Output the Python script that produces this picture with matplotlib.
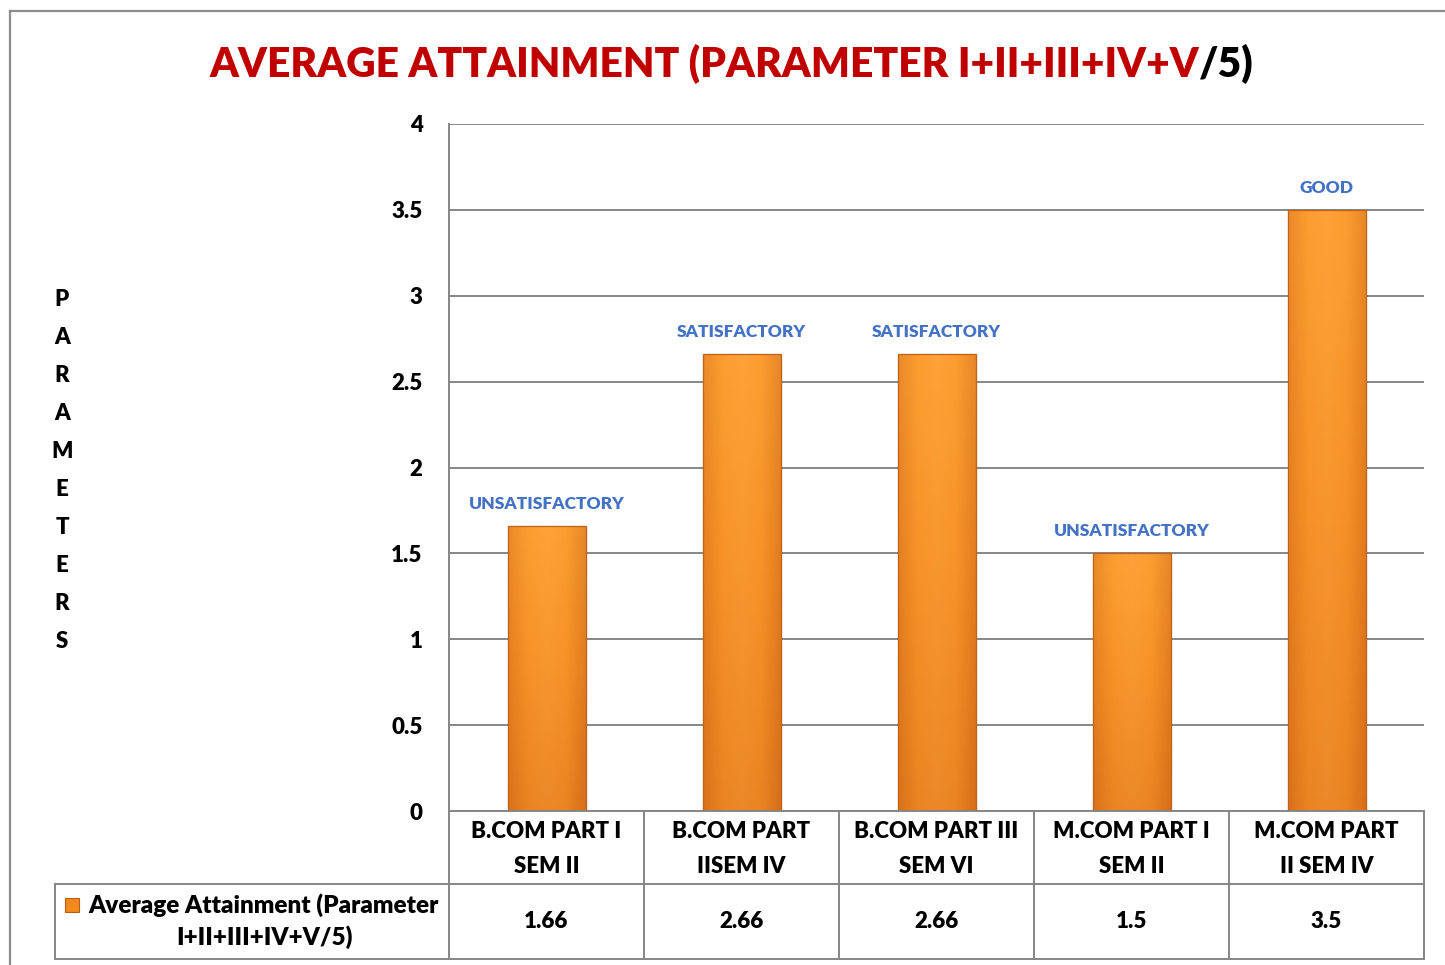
import matplotlib
matplotlib.use("Agg")
import matplotlib.pyplot as plt
import numpy as np
from matplotlib.lines import Line2D
from matplotlib.patches import Rectangle
from matplotlib.colors import LinearSegmentedColormap
import matplotlib.transforms as mtransforms

plt.rcParams['font.family'] = ['Lato', 'DejaVu Sans']
WT = 'heavy'
plt.rcParams['font.weight'] = WT

categories = ["B.COM PART I\nSEM II", "B.COM PART\nIISEM IV", "B.COM PART III\nSEM VI",
              "M.COM PART I\nSEM II", "M.COM PART\nII SEM IV"]
values = [1.66, 2.66, 2.66, 1.5, 3.5]
value_labels = ["1.66", "2.66", "2.66", "1.5", "3.5"]
ratings = ["UNSATISFACTORY", "SATISFACTORY", "SATISFACTORY", "UNSATISFACTORY", "GOOD"]
yticks = [0, 0.5, 1, 1.5, 2, 2.5, 3, 3.5, 4]
ytick_labels = ["0", "0.5", "1", "1.5", "2", "2.5", "3", "3.5", "4"]
series_name = "Average Attainment (Parameter\nI+II+III+IV+V/5)"
title_red = "AVERAGE ATTAINMENT (PARAMETER I+II+III+IV+V"
title_black = "/5)"
ylabel = "PARAMETERS"

W, H = 1445, 965
fig = plt.figure(figsize=(W / 100, H / 100), dpi=100)
fig.patch.set_facecolor('white')

def fx(px):
    return px / W

def fy(py):
    return 1 - py / H

ax = fig.add_axes([fx(449), fy(811), fx(1424) - fx(449), fy(124) - fy(811)])
x = np.arange(len(categories))
ax.set_yticks(yticks)
ax.set_yticklabels(ytick_labels, fontsize=16, fontweight=WT)
ax.tick_params(axis='y', length=0, pad=19)
ax.set_xticks([])
ax.grid(axis='y', color='#868686', linewidth=1.4)
ax.set_axisbelow(True)
for s in ['top', 'right', 'bottom']:
    ax.spines[s].set_visible(False)
ax.spines['left'].set_color('#868686')
ax.spines['left'].set_linewidth(1.4)

bars = ax.bar(x, values, width=0.4, color='#F7931E', edgecolor='#C8661A', linewidth=0.8, zorder=2)

grad = np.linspace(0, 1, 256).reshape(-1, 1)
cmap = LinearSegmentedColormap.from_list('og', ['#E0761B', '#F48C24', '#FFA035'])
hcmap = LinearSegmentedColormap.from_list('hz', ['#D06A18', '#F99A2E', '#FFA63E', '#F99A2E', '#C86416'])
for b in bars:
    x0, w, h = b.get_x(), b.get_width(), b.get_height()
    im = ax.imshow(grad, extent=(x0, x0 + w, 0, h), origin='lower', cmap=cmap,
                   aspect='auto', zorder=2.1)
    im.set_clip_path(b)
    im2 = ax.imshow(np.linspace(0, 1, 64).reshape(1, -1), extent=(x0, x0 + w, 0, h),
                    cmap=hcmap, aspect='auto', alpha=0.4, zorder=2.2)
    im2.set_clip_path(b)
    ax.add_patch(Rectangle((x0, 0), w, h, fill=False, edgecolor='#BF631B', linewidth=0.9, zorder=2.3))
ax.set_xlim(-0.5, len(categories) - 0.5)
ax.set_ylim(0, 4)

for xi, v, r in zip(x, values, ratings):
    ax.annotate(r, (xi, v), xytext=(0, 10), textcoords='offset points', ha='center', va='bottom',
                fontsize=12.5, fontweight=WT, color='#4472C4')

# data table
gray = '#868686'
row1_bot = fy(884)
row2_bot = fy(959)
top = fy(811)
edges = np.arange(len(categories) + 1) - 0.5
trans = mtransforms.blended_transform_factory(ax.transData, fig.transFigure)
for e in edges:
    fig.add_artist(Line2D([e, e], [top, row2_bot], transform=trans, color=gray, lw=1.4))
fig.add_artist(Line2D([edges[0], edges[-1]], [top, top], transform=trans, color=gray, lw=1.4))
fig.add_artist(Line2D([fx(55), fx(1424)], [row1_bot, row1_bot], color=gray, lw=1.4))
fig.add_artist(Line2D([fx(55), fx(1424)], [row2_bot, row2_bot], color=gray, lw=1.4))
fig.add_artist(Line2D([fx(55), fx(55)], [row1_bot, row2_bot], color=gray, lw=1.4))

for xi, c, vl in zip(x, categories, value_labels):
    fig.text(xi, fy(849), c, transform=trans, ha='center', va='center',
             fontsize=16, fontweight=WT, linespacing=1.78)
    fig.text(xi, fy(921), vl, transform=trans, ha='center', va='center',
             fontsize=16, fontweight=WT)

fig.text(fx(264), fy(921), series_name, ha='center', va='center',
         fontsize=17.5, fontweight=WT, linespacing=1.45, multialignment='center')
fig.add_artist(Rectangle((fx(65), fy(912)), fx(14), 14 / H, facecolor='#F08A1E',
                         edgecolor='#B85E14', lw=0.8))

# y label as stacked letters
ys = np.linspace(300, 642, len(ylabel))
for ch, yy in zip(ylabel, ys):
    fig.text(fx(62), fy(yy), ch, ha='center', va='center', fontsize=16, fontweight=WT)

# title with two colours, sized to target width
fig.canvas.draw()
r = fig.canvas.get_renderer()
fs = 30
t1 = fig.text(0, fy(64), title_red, color='#C00000', fontsize=fs, fontweight=WT, va='center', ha='left')
t2 = fig.text(0, fy(64), title_black, color='black', fontsize=fs, fontweight=WT, va='center', ha='left')
wtot = t1.get_window_extent(r).width + t2.get_window_extent(r).width
fs = fs * 1043 / wtot
t1.set_fontsize(fs)
t2.set_fontsize(fs)
w1 = t1.get_window_extent(r).width
w2 = t2.get_window_extent(r).width
start = 731.5 - (w1 + w2) / 2
t1.set_x(fx(start))
t2.set_x(fx(start + w1))

# outer border
fig.add_artist(Line2D([fx(10), fx(10)], [fy(11), 0], color='#8C8C8C', lw=1.6))
fig.add_artist(Line2D([fx(10), 1], [fy(11), fy(11)], color='#8C8C8C', lw=1.6))

fig.savefig('out.png', dpi=100, facecolor='white')
